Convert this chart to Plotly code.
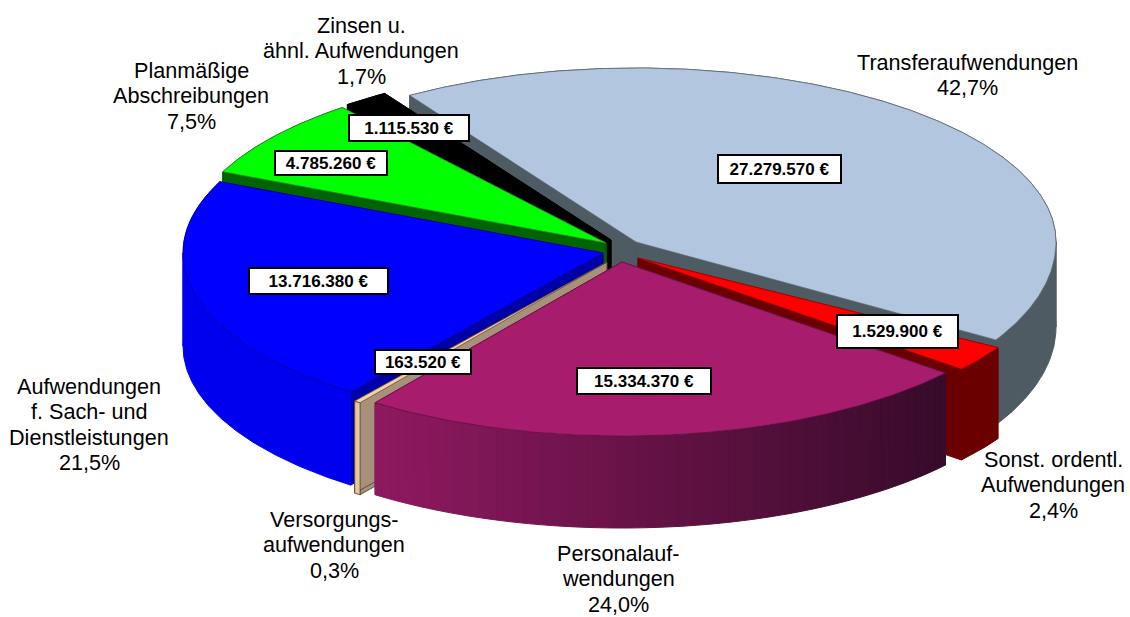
import numpy as np
import plotly.graph_objects as go

# ---- data ----
names = ["Transferaufwendungen", "Sonst. ordentl. Aufwendungen", "Personalaufwendungen",
         "Versorgungsaufwendungen", "Aufwendungen f. Sach- und Dienstleistungen",
         "Planmäßige Abschreibungen", "Zinsen u. ähnl. Aufwendungen"]
values = [27279570, 1529900, 15334370, 163520, 13716380, 4785260, 1115530]
shares = ["42,7%", "2,4%", "24,0%", "0,3%", "21,5%", "7,5%", "1,7%"]
label_lines = [["Transferaufwendungen"],
               ["Sonst. ordentl.", "Aufwendungen"],
               ["Personalauf-", "wendungen"],
               ["Versorgungs-", "aufwendungen"],
               ["Aufwendungen", "f. Sach- und", "Dienstleistungen"],
               ["Planmäßige", "Abschreibungen"],
               ["Zinsen u.", "ähnl. Aufwendungen"]]

# ---- styles / layout ----
W, H = 1130, 617
START = -32.6
RX = 420
RY_BACK = [174, 174, 174, 174, 174, 174, 174]
RY_FRONT = [190, 174, 174, 174, 174, 174, 174]
apex = [(636, 242), (638, 258), (622, 262), (607, 262), (603, 253), (606, 243), (611, 240)]
depth = [85, 91, 92, 92, 93, 93, 93]
top_col = ["#B3C6DF", "#FF0000", "#A81C6E", "#F3D1A4", "#0000FF", "#00FF00", "#000000"]
cut_col = ["#4E5B63", "#6A0000", "#7A1450", "#A8917A", "#0000A8", "#006400", "#000000"]
wall_col = ["#4E5B63", "#6A0000", None, "#E6C79E", "#0000EE", "#006400", "#000000"]
edge_col = ["#5A6570", "#B00000", "#5A0F3C", "#5A4030", "#000080", "#3A7A3A", "#000000"]
side_line = [None, None, None, "#4A3828", None, None, None]
GRAD_L, GRAD_R = np.array([0x90, 0x1A, 0x60]), np.array([0x38, 0x0B, 0x2B])
paint_order = [0, 6, 5, 1, 4, 3, 2]

label_pos = [(967, 62), (1053, 459), (618, 553), (334, 519), (89, 386), (191, 70), (361, 25)]
LINE_STEP = 25.5
box_pos = [(779, 169), (897, 331), (644, 381), (423, 362), (318, 281), (331, 163), (409, 128)]
box_size = [(125, 30), (123, 35), (136, 28), (98, 26), (141, 28), (114, 26), (122, 28)]

fig = go.Figure()


def poly(x, y, fill, line=None, lw=1):
    fig.add_trace(go.Scatter(x=list(x), y=list(y), mode="lines", fill="toself", fillcolor=fill,
                             line=dict(color=line or fill, width=lw), hoverinfo="skip",
                             showlegend=False))


def pt(i, deg):
    t = np.radians(np.asarray(deg, dtype=float))
    c = np.cos(t)
    ry = np.where(c >= 0, RY_BACK[i], RY_FRONT[i])
    return apex[i][0] + RX * np.sin(t), apex[i][1] - ry * c


total = sum(values)
angles = np.concatenate([[0], np.cumsum(values)]) / total * 360 + START

for i in paint_order:
    a0, a1 = angles[i], angles[i + 1]
    d = depth[i]
    cx, cy = apex[i]
    th = np.linspace(a0, a1, max(int((a1 - a0) * 2), 4))
    ax, ay = pt(i, th)
    # radial cut faces
    for e in (a0, a1):
        ex, ey = pt(i, e)
        poly([cx, ex, ex, cx, cx], [cy, ey, ey + d, cy + d, cy], cut_col[i],
             side_line[i], 0.8 if side_line[i] else 1)
    # outer wall, split where the arc turns back so that each piece is a simple polygon
    if wall_col[i] is not None:
        cuts = [a0] + [t for t in (90, 270) if a0 < t < a1] + [a1]
        for s0, s1 in zip(cuts[:-1], cuts[1:]):
            sx, sy = pt(i, np.linspace(s0, s1, max(int((s1 - s0) * 2), 4)))
            poly(np.r_[sx, sx[::-1], sx[0]], np.r_[sy, sy[::-1] + d, sy[0]], wall_col[i],
                 side_line[i], 0.8 if side_line[i] else 1)
    else:
        n = 70
        th2 = np.linspace(a0, a1, n + 1)
        bx, by = pt(i, th2)
        for k in range(n):
            f = (bx.max() - bx[k]) / (bx.max() - bx.min())
            rgb = GRAD_R * (1 - f) + GRAD_L * f
            c = "rgb(%d,%d,%d)" % tuple(rgb)
            poly([bx[k], bx[k + 1], bx[k + 1], bx[k], bx[k]],
                 [by[k], by[k + 1], by[k + 1] + d, by[k] + d, by[k]], c)
    # top face
    poly(np.r_[cx, ax, cx], np.r_[cy, ay, cy], top_col[i], edge_col[i], 0.7)

anns = []
BLACK = "#000000"
for i in range(len(values)):
    lines = label_lines[i] + [shares[i]]
    lx, ly = label_pos[i]
    for k, t in enumerate(lines):
        anns.append(dict(x=lx, y=ly + k * LINE_STEP, text=t, showarrow=False, xanchor="center", yanchor="middle",
                         font=dict(family="Liberation Sans", size=21.6, color=BLACK)))
    bx, by = box_pos[i]
    bw, bh = box_size[i]
    txt = f"{values[i]:,}".replace(",", ".") + " €"
    anns.append(dict(x=bx, y=by, text=f"<b>{txt}</b>", showarrow=False, xanchor="center", yanchor="middle",
                     width=bw - 6, height=bh - 6, bgcolor="#FFFFFF", bordercolor=BLACK, borderwidth=2,
                     borderpad=1, align="center", valign="middle",
                     font=dict(family="Liberation Sans", size=17, color=BLACK)))

fig.update_layout(width=W, height=H, margin=dict(l=0, r=0, t=0, b=0), paper_bgcolor="#FFFFFF",
                  plot_bgcolor="#FFFFFF", showlegend=False, annotations=anns,
                  xaxis=dict(range=[0, W], visible=False, fixedrange=True),
                  yaxis=dict(range=[H, 0], visible=False, fixedrange=True))
fig.write_html("out.html", config={"displayModeBar": False},
               post_script="document.body.style.margin='0';")
